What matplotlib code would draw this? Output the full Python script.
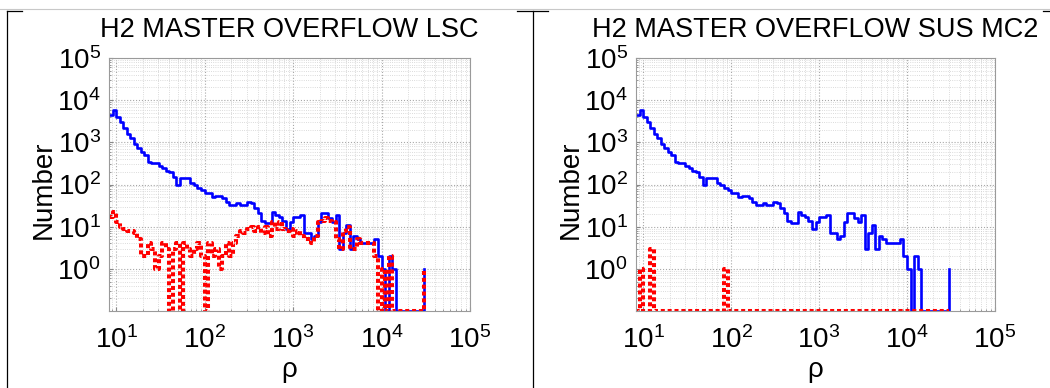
import numpy as np
import matplotlib
matplotlib.use('Agg')
import matplotlib.pyplot as plt
from matplotlib.lines import Line2D
from matplotlib.ticker import FixedLocator, LogLocator, NullFormatter

plt.rcParams['font.family'] = ['Liberation Sans', 'DejaVu Sans']
plt.rcParams['mathtext.fontset'] = 'custom'
plt.rcParams['mathtext.rm'] = 'Liberation Sans'
plt.rcParams['mathtext.it'] = 'Liberation Sans:italic'
plt.rcParams['mathtext.default'] = 'regular'

# log-spaced histogram bins in rho (log10 of first bin, log10 step)
bin_log_start = 0.92
bin_log_step = 0.04

titles = ['H2 MASTER OVERFLOW LSC', 'H2 MASTER OVERFLOW SUS MC2']

# all triggers (blue)
all_counts = [4500, 6000, 4000, 3000, 2200, 1600, 1250, 900, 740, 580,
              500, 340, 320, 316, 270, 245, 210, 200, 151, 100,
              145, 145, 145, 110, 95, 83, 74, 63, 63, 50,
              54, 54, 48, 39, 32, 32, 36, 32, 32, 39,
              36, 28, 21, 14, 12, 12, 22, 19, 17, 14,
              9, 13, 17, 17, 19, 7, 7, 5, 6, 13,
              21, 21, 16, 13, 19, 3, 7, 11, 3, 6,
              5, 4, 4, 4, 4, 5, 2, 1, 0, 2,
              1, 0, 0, 0, 0, 0, 0, 0, 0, 1]

# triggers coincident with the overflow channel (red)
lsc_counts = [17, 22, 13, 10, 9, 8, 8, 7, 5, 2,
              2, 4, 3, 1, 2, 4, 3, 0, 3, 4,
              0, 4, 3, 2, 3, 4, 2, 0, 4, 2,
              3, 1, 2, 4, 2, 4, 6, 8, 7, 9,
              10, 8, 10, 7, 10, 6, 13, 9, 13, 9,
              8, 9, 6, 8, 6, 5, 5, 4, 6, 13,
              14, 16, 14, 13, 5, 3, 8, 10, 3, 3,
              5, 4, 4, 4, 4, 2, 0, 1, 0, 2,
              0, 0, 0, 0, 0, 0, 0, 0, 0, 1]

sus_counts = [0, 1, 0, 0, 3, 0, 0, 0, 0, 0,
              0, 0, 0, 0, 0, 0, 0, 0, 0, 0,
              0, 0, 0, 0, 0, 1, 0, 0, 0, 0,
              0, 0, 0, 0, 0, 0, 0, 0, 0, 0,
              0, 0, 0, 0, 0, 0, 0, 0, 0, 0,
              0, 0, 0, 0, 0, 0, 0, 0, 0, 0,
              0, 0, 0, 0, 0, 0, 0, 0, 0, 0,
              0, 0, 0, 0, 0, 0, 0, 0, 0, 0,
              0, 0, 0, 0, 0, 0, 0, 0, 0, 0]

ymin = 0.1
# left edge of every bin, drawn like matlab's stairs()
rho = 10 ** (bin_log_start + bin_log_step * np.arange(len(all_counts)))

fig = plt.figure(figsize=(10.5, 3.88), dpi=100)

# panel frame lines (page layout)
fig.add_artist(Line2D([0, 1], [1 - 9 / 388, 1 - 9 / 388], color='#c8c8c8', lw=0.8))
for x0, x1 in [(7, 22), (517, 548), (1043, 1050)]:
    fig.add_artist(Line2D([x0 / 1050, x1 / 1050], [1 - 10.5 / 388] * 2, color='black', lw=0.9))
for xv in [7, 533]:
    fig.add_artist(Line2D([xv / 1050] * 2, [0, 1 - 10.5 / 388], color='black', lw=0.9))

positions = [[109 / 1050, 1 - 311 / 388, 361 / 1050, 253 / 388],
             [636 / 1050, 1 - 311 / 388, 359 / 1050, 253 / 388]]

for pos, title, red in zip(positions, titles, [lsc_counts, sus_counts]):
    ax = fig.add_axes(pos)
    ax.set_xscale('log')
    ax.set_yscale('log')

    blue_vals = np.maximum(np.array(all_counts, float), ymin)
    red_vals = np.maximum(np.array(red, float), ymin)
    ax.plot(rho, blue_vals, drawstyle='steps-post', color='#0000ff', lw=1.9)
    ax.plot(rho, red_vals, drawstyle='steps-post', color='#ff0000', lw=2.9,
            linestyle=(0, (1.0, 0.7)))

    ax.set_xlim(10 ** 0.92, 1e5)
    ax.set_ylim(ymin, 1e5)

    ax.xaxis.set_major_locator(FixedLocator([1e1, 1e2, 1e3, 1e4, 1e5]))
    ax.set_xticklabels(['$10^{%d}$' % i for i in range(1, 6)])
    ax.yaxis.set_major_locator(FixedLocator([1e0, 1e1, 1e2, 1e3, 1e4, 1e5]))
    ax.set_yticklabels(['$10^{%d}$' % i for i in range(0, 6)])
    for axis in (ax.xaxis, ax.yaxis):
        axis.set_minor_locator(LogLocator(base=10, subs=np.arange(2, 10), numticks=20))
        axis.set_minor_formatter(NullFormatter())

    ax.grid(True, which='major', ls=':', color='#a8a8a8', lw=0.8)
    ax.grid(True, which='minor', ls=':', color='#cfcfcf', lw=0.6)
    ax.set_axisbelow(True)
    ax.tick_params(which='both', direction='in', color='#888888', length=3)
    ax.tick_params(which='minor', length=1.5)
    ax.tick_params(axis='x', labelsize=20, pad=11)
    ax.tick_params(axis='y', labelsize=20, pad=6)
    for sp in ax.spines.values():
        sp.set_color('#9a9a9a')
        sp.set_linewidth(0.8)

    ax.set_title(title, fontsize=19.5, pad=15)
    ax.set_xlabel('ρ', fontsize=20)
    ax.xaxis.set_label_coords(0.5, -0.18)
    ax.set_ylabel('Number', fontsize=20)
    ax.yaxis.set_label_coords(-0.145, 0.48)

fig.savefig('out.png', dpi=100)
